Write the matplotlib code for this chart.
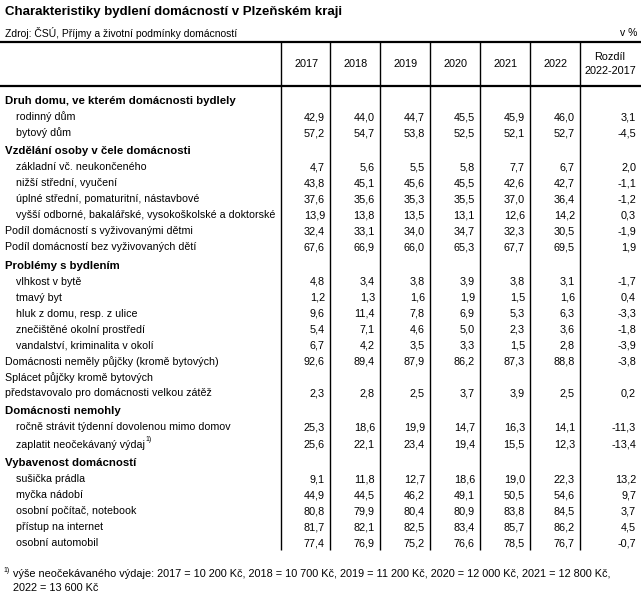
import matplotlib
matplotlib.use("Agg")
import matplotlib.pyplot as plt

plt.rcParams['font.family'] = ['Liberation Sans', 'DejaVu Sans']

title = "Charakteristiky bydlení domácností v Plzeňském kraji"
source = "Zdroj: ČSÚ, Příjmy a životní podmínky domácností"
unit = "v %"
years = ["2017", "2018", "2019", "2020", "2021", "2022"]
diff_header = ["Rozdíl", "2022-2017"]

labels = [
    "Druh domu, ve kterém domácnosti bydlely",
    "rodinný dům",
    "bytový dům",
    "Vzdělání osoby v čele domácnosti",
    "základní vč. neukončeného",
    "nižší střední, vyučení",
    "úplné střední, pomaturitní, nástavbové",
    "vyšší odborné, bakalářské, vysokoškolské a doktorské",
    "Podíl domácností s vyživovanými dětmi",
    "Podíl domácností bez vyživovaných dětí",
    "Problémy s bydlením",
    "vlhkost v bytě",
    "tmavý byt",
    "hluk z domu, resp. z ulice",
    "znečištěné okolní prostředí",
    "vandalství, kriminalita v okolí",
    "Domácnosti neměly půjčky (kromě bytových)",
    "Splácet půjčky kromě bytových\npředstavovalo pro domácnosti velkou zátěž",
    "Domácnosti nemohly",
    "ročně strávit týdenní dovolenou mimo domov",
    "zaplatit neočekávaný výdaj",
    "Vybavenost domácností",
    "sušička prádla",
    "myčka nádobí",
    "osobní počítač, notebook",
    "přístup na internet",
    "osobní automobil",
]
# h = bold section header, m = main row, s = indented sub row
kinds = ["h", "s", "s", "h", "s", "s", "s", "s", "m", "m", "h", "s", "s", "s",
         "s", "s", "m", "m", "h", "s", "s", "h", "s", "s", "s", "s", "s"]
footnoted = [False] * 20 + [True] + [False] * 6

v2017 = [None, 42.9, 57.2, None, 4.7, 43.8, 37.6, 13.9, 32.4, 67.6, None, 4.8, 1.2, 9.6,
         5.4, 6.7, 92.6, 2.3, None, 25.3, 25.6, None, 9.1, 44.9, 80.8, 81.7, 77.4]
v2018 = [None, 44.0, 54.7, None, 5.6, 45.1, 35.6, 13.8, 33.1, 66.9, None, 3.4, 1.3, 11.4,
         7.1, 4.2, 89.4, 2.8, None, 18.6, 22.1, None, 11.8, 44.5, 79.9, 82.1, 76.9]
v2019 = [None, 44.7, 53.8, None, 5.5, 45.6, 35.3, 13.5, 34.0, 66.0, None, 3.8, 1.6, 7.8,
         4.6, 3.5, 87.9, 2.5, None, 19.9, 23.4, None, 12.7, 46.2, 80.4, 82.5, 75.2]
v2020 = [None, 45.5, 52.5, None, 5.8, 45.5, 35.5, 13.1, 34.7, 65.3, None, 3.9, 1.9, 6.9,
         5.0, 3.3, 86.2, 3.7, None, 14.7, 19.4, None, 18.6, 49.1, 80.9, 83.4, 76.6]
v2021 = [None, 45.9, 52.1, None, 7.7, 42.6, 37.0, 12.6, 32.3, 67.7, None, 3.8, 1.5, 5.3,
         2.3, 1.5, 87.3, 3.9, None, 16.3, 15.5, None, 19.0, 50.5, 83.8, 85.7, 78.5]
v2022 = [None, 46.0, 52.7, None, 6.7, 42.7, 36.4, 14.2, 30.5, 69.5, None, 3.1, 1.6, 6.3,
         3.6, 2.8, 88.8, 2.5, None, 14.1, 12.3, None, 22.3, 54.6, 84.5, 86.2, 76.7]
diff = [None, 3.1, -4.5, None, 2.0, -1.1, -1.2, 0.3, -1.9, 1.9, None, -1.7, 0.4, -3.3,
        -1.8, -3.9, -3.8, 0.2, None, -11.3, -13.4, None, 13.2, 9.7, 3.7, 4.5, -0.7]

footnote_mark = "1)"
footnote_lines = [
    "výše neočekávaného výdaje: 2017 = 10 200 Kč, 2018 = 10 700 Kč, 2019 = 11 200 Kč, 2020 = 12 000 Kč, 2021 = 12 800 Kč,",
    "2022 = 13 600 Kč",
]

W, H = 641, 597
fig = plt.figure(figsize=(W / 100, H / 100), dpi=100)
ax = fig.add_axes([0, 0, 1, 1])
ax.set_xlim(0, W)
ax.set_ylim(H, 0)
ax.axis("off")

FS = 7.8
FS_LAB = 7.7
FS_BOLD = 8.2
col_edges = [281, 330, 380, 430, 480, 530, 580]
col_right = [e - 5 for e in col_edges[1:]] + [636]

def fmt(v):
    return ("%.1f" % v).replace(".", ",")

ax.text(5, 12, title, fontsize=9.5, fontweight="bold", va="center", ha="left")
ax.text(5, 33, source, fontsize=7.5, va="center", ha="left")
ax.text(637, 33, unit, fontsize=7.5, va="center", ha="right")

top_line = 42
head_line = 86
ax.plot([0, W], [top_line, top_line], color="black", lw=1.6, solid_capstyle="butt")
ax.plot([0, W], [head_line, head_line], color="black", lw=1.6, solid_capstyle="butt")

for i, yr in enumerate(years):
    cx = (col_edges[i] + col_edges[i + 1]) / 2
    ax.text(cx + 1, 64, yr, fontsize=FS, ha="center", va="center")
ax.text(610, 57, diff_header[0], fontsize=FS, ha="center", va="center")
ax.text(610, 71, diff_header[1], fontsize=FS, ha="center", va="center")

# row layout
ys = []
y = 85
prev = None
for k, lab, fn in zip(kinds, labels, footnoted):
    if prev is None:
        step = 16
    elif prev == "h":
        step = 16
    elif k == "h":
        step = 18.3
    elif "\n" in lab:
        step = 31.5
    elif fn:
        step = 17.5
    else:
        step = 16
    y += step
    ys.append(y)
    prev = k

renderer = fig.canvas.get_renderer()
series = [v2017, v2018, v2019, v2020, v2021, v2022, diff]
for idx, (k, lab, fn, yy) in enumerate(zip(kinds, labels, footnoted, ys)):
    if k == "h":
        ax.text(5, yy, lab, fontsize=FS_BOLD, fontweight="bold", ha="left", va="center")
        continue
    x0 = 16 if k == "s" else 5
    if "\n" in lab:
        l1, l2 = lab.split("\n")
        ax.text(x0, yy - 15.5, l1, fontsize=FS_LAB, ha="left", va="center")
        t = ax.text(x0, yy, l2, fontsize=FS_LAB, ha="left", va="center")
    else:
        t = ax.text(x0, yy, lab, fontsize=FS_LAB, ha="left", va="center")
    if fn:
        bb = t.get_window_extent(renderer=renderer)
        ax.text(bb.x1 + 0.5, yy - 5, footnote_mark, fontsize=5, ha="left", va="center")
    for j, s in enumerate(series):
        v = s[idx]
        if v is not None:
            ax.text(col_right[j], yy, fmt(v), fontsize=FS, ha="right", va="center")

bottom = ys[-1] + 7
for e in col_edges:
    ax.plot([e, e], [top_line, bottom], color="black", lw=1.0, solid_capstyle="butt")

ax.text(3, 570, footnote_mark, fontsize=5, ha="left", va="center")
ax.text(13, 574, footnote_lines[0], fontsize=FS, ha="left", va="center")
ax.text(13, 588, footnote_lines[1], fontsize=FS, ha="left", va="center")

fig.savefig("out.png", dpi=100)
